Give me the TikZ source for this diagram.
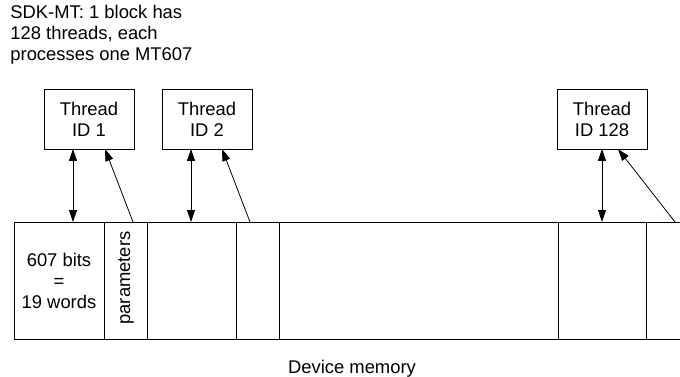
\documentclass[tikz,border=0pt]{standalone}
\usepackage{fontspec}
\setmainfont{Liberation Sans}
\usetikzlibrary{arrows.meta}
\begin{document}
\begin{tikzpicture}[x=1pt,y=-1pt,
  line width=0.8pt,
  every node/.style={font=\fontsize{18.4}{21}\selectfont},
  tbox/.style={draw, minimum width=90pt, minimum height=60pt, align=center, inner sep=0pt},
  conn/.style={-{Triangle[length=12pt,width=8pt]}},
  dconn/.style={{Triangle[length=12pt,width=8pt]}-{Triangle[length=12pt,width=8pt]}}]
\useasboundingbox (0,0) rectangle (680,377);
\clip (0,0) rectangle (680,377);

% caption
\node[anchor=north west, align=left, inner sep=0pt] (cap) at (10,5)
  {SDK-MT: 1 block has\\128 threads, each\\processes one MT607};

% thread boxes
\node[tbox] (t1) at (89,119) {Thread\\ID 1};
\node[tbox] (t2) at (207,119) {Thread\\ID 2};
\node[tbox] (t3) at (602,119) {Thread\\ID 128};

% device memory
\draw (690,222) -- (14,222) -- (14,339) -- (690,339);
\foreach \x in {104,147,236,279,558,646}
  \draw (\x,222) -- (\x,339);

\node[align=center, inner sep=0pt] (bits) at (59,281) {607 bits\\=\\19 words};
\node[rotate=90, inner sep=0pt] (par) at (126,278) {parameters};
\node[inner sep=0pt] (dev) at (352,369) {Device memory};

% connector end points
\coordinate (m1) at (73,222);
\coordinate (m2) at (191,222);
\coordinate (m3) at (602,222);
\coordinate (q1) at (133,222);
\coordinate (q2) at (250,222);
\coordinate (q3) at (675,222);
\coordinate (s1) at (73,149);
\coordinate (s2) at (191,149);
\coordinate (s3) at (602,149);
\coordinate (r1) at (105,149);
\coordinate (r2) at (222,149);
\coordinate (r3) at (618,149);

\draw[dconn] (s1) -- (m1);
\draw[dconn] (s2) -- (m2);
\draw[dconn] (s3) -- (m3);
\draw[conn] (q1) -- (r1);
\draw[conn] (q2) -- (r2);
\draw[conn] (q3) -- (r3);
\end{tikzpicture}
\end{document}
